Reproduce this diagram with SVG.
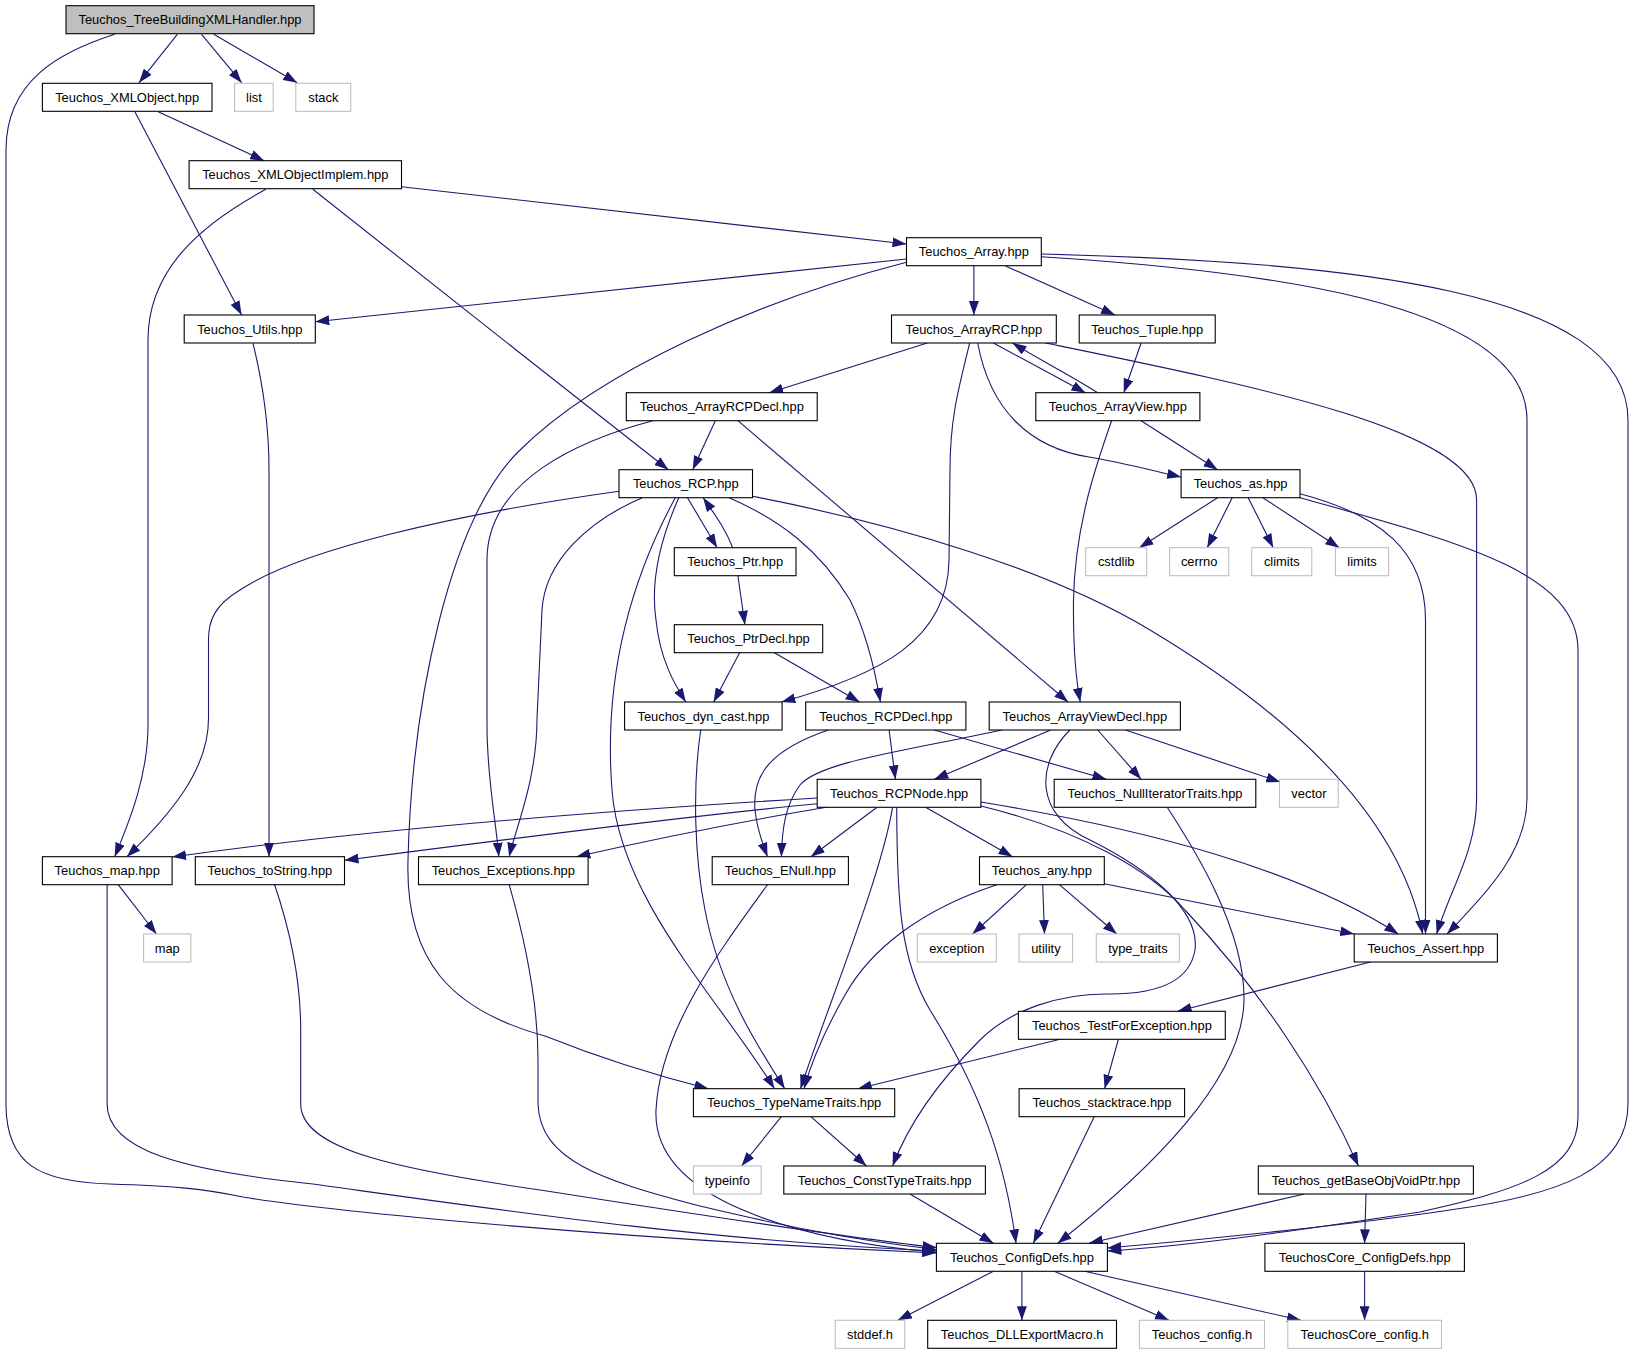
<svg xmlns="http://www.w3.org/2000/svg" width="1634" height="1355" viewBox="0 0 1634 1355">
<defs>
<style>
.n rect{fill:#ffffff;stroke:#000000;stroke-width:1.1}
.x rect{fill:#ffffff;stroke:#bfbfbf;stroke-width:1.1}
.r rect{fill:#bfbfbf;stroke:#000000;stroke-width:1.1}
text{font-family:"Liberation Sans",Arial,sans-serif;font-size:12.9px;fill:#000000;text-anchor:middle}
#edges path{fill:none;stroke:#191970;stroke-width:1.1;marker-end:url(#a)}
</style>
<marker id="a" markerUnits="userSpaceOnUse" markerWidth="14" markerHeight="10" viewBox="0 0 13.3 9.4" refX="13.3" refY="4.7" orient="auto"><path d="M0,0L13.3,4.7L0,9.4z" fill="#191970"/></marker>
</defs>
<rect width="1634" height="1355" fill="#ffffff"/>
<g id="edges">
<path d="M177.3,34.3L139,82.7"/>
<path d="M201.6,34.3L241.6,82.7"/>
<path d="M213.8,34.3L297.2,82.7"/>
<path d="M114.7,34.3C60,52 6,80 6,150L6,1104C6,1165 40,1182 110,1184C170,1186 200,1188 243,1197C320,1210 600,1238 936,1253"/>
<path d="M158.2,111.7L264.2,160.7"/>
<path d="M134.9,111.7L241.6,315"/>
<path d="M401.5,186.7L906.5,244"/>
<path d="M312.8,189.3C400,258 560,385 668.4,469.7"/>
<path d="M265.9,189.3C200,225 148,270 148,340L148,725C148,775 130,820 114.7,856.7"/>
<path d="M906.5,259L315.3,321.7"/>
<path d="M973.9,266L973.9,315"/>
<path d="M1005.5,266L1115.1,315"/>
<path d="M906.5,262.3C760,300 600,370 518,452C450,520 412,700 408,860C405,960 450,1010 545,1036C600,1058 650,1074 708.4,1088.7"/>
<path d="M1041.3,256.7C1250,270 1527,300 1527,420L1527,798C1527,850 1490,890 1447,934"/>
<path d="M1041.3,254C1350,262 1628,290 1628,420L1628,1104C1628,1170 1560,1195 1450,1210C1350,1225 1200,1240 1107.4,1248"/>
<path d="M253,343.3C262,380 269,420 269,470L269,856.7"/>
<path d="M927.3,343L769.2,392.7"/>
<path d="M993.4,343L1085.5,392.7"/>
<path d="M1097.7,392.7C1070,375 1040,360 1012.5,343"/>
<path d="M969.7,343C958,390 950,420 950,470L949,560C948,640 880,675 781.4,702"/>
<path d="M977.7,343C990,410 1030,448 1089,457C1120,462 1150,470 1181.1,477"/>
<path d="M1045.5,343C1250,385 1476.6,430 1476.6,500L1476.6,798.7C1476.6,850 1450,890 1436.6,934"/>
<path d="M1141.1,343L1123.8,392.7"/>
<path d="M1141.1,420.7L1217.6,469.7"/>
<path d="M1111.6,420.7C1100,455 1075,520 1073.5,600C1073,650 1076,680 1080.3,702"/>
<path d="M715.3,420.7L692.7,469.7"/>
<path d="M737.9,420.7L1068.1,702"/>
<path d="M652.8,420.7C580,440 487,480 487,560L487,725C487,780 496,820 498.8,856.7"/>
<path d="M687.5,497.7L717.1,547.7"/>
<path d="M732.7,547.7C725,528 715,515 703.2,497.7"/>
<path d="M678.8,497.7C660,540 650,580 656,620C660,660 675,685 685.8,702"/>
<path d="M729.2,497.7C780,520 820,550 850,600C865,630 875,670 880.4,702"/>
<path d="M619,491.3C450,515 300,550 240,590C215,605 208.5,620 208.5,640L208.5,718.7C208.5,770 170,815 126.9,856.7"/>
<path d="M642.3,497.7C590,520 545,560 542,610L537,718.7C537,780 515,830 509.2,856.7"/>
<path d="M675.3,497.7C620,600 605,700 612,790C620,900 720,1000 774.4,1088.7"/>
<path d="M752.5,496.3C900,525 1050,570 1150,630C1300,720 1400,820 1422.7,934"/>
<path d="M737.9,575.7L744.9,624.7"/>
<path d="M739.6,652.7L713.6,702"/>
<path d="M774.4,652.7L859.6,702"/>
<path d="M1217.6,497.7L1139.4,547.7"/>
<path d="M1232.2,497.7L1207.2,547.7"/>
<path d="M1248.2,497.7L1273.2,547.7"/>
<path d="M1262.8,497.7L1339.3,547.7"/>
<path d="M1300,493.7C1380,515 1425.5,550 1425.5,620L1425.5,934"/>
<path d="M1300,497.7C1450,540 1578,570 1578,650L1578,1117C1578,1170 1520,1190 1420,1212C1300,1230 1200,1245 1107.4,1251"/>
<path d="M700.7,730C692,790 695,860 705,910C720,990 760,1050 784.8,1088.7"/>
<path d="M889.1,730L895.4,779.3"/>
<path d="M828.3,730C770,750 752,775 755,810C757,830 763,845 767.5,856.7"/>
<path d="M934.3,730L1106.4,779.3"/>
<path d="M1050.7,730L934.3,779.3"/>
<path d="M1097.7,730L1141.1,779.3"/>
<path d="M1125.5,730L1280.2,782"/>
<path d="M1002.1,730C900,752 820,762 800,785C785,805 782,830 781.4,856.7"/>
<path d="M1069.8,730C1035,765 1035,815 1090,840C1150,870 1200,910 1195,950C1190,980 1160,994 1110,994C1060,993 1010,1010 980,1040C940,1080 910,1120 892.6,1166"/>
<path d="M1167.2,807.3C1195,850 1245,930 1244,1000C1243,1080 1150,1170 1057.7,1243.3"/>
<path d="M817.2,798C650,808 400,825 172.1,857"/>
<path d="M817.2,803.7C700,815 500,840 344.5,860.3"/>
<path d="M826.5,807.3C750,820 650,840 576.3,856.7"/>
<path d="M877,807.3L810.9,856.7"/>
<path d="M925.6,807.3L1012.5,856.7"/>
<path d="M892.6,807.3C880,880 830,1000 800.5,1088.7"/>
<path d="M896.7,807.3C897,900 900,960 930,1010C980,1090 1005,1160 1016,1243.3"/>
<path d="M980.9,802C1150,830 1300,870 1398.3,934"/>
<path d="M980.9,806C1080,830 1150,870 1185,910C1260,990 1320,1080 1358.4,1166"/>
<path d="M118.2,884.7L156.4,934"/>
<path d="M107.1,884.7L107.1,1104C107.1,1150 180,1170 312.8,1184C500,1210 700,1240 936.4,1251"/>
<path d="M274.6,884.7C290,930 300.7,980 300.7,1030L300.7,1104C300.7,1150 400,1170 545,1190.7C700,1215 850,1238 936.4,1247.5"/>
<path d="M509.2,884.7C525,940 538,1000 538,1060L538,1104C540,1160 600,1180 700,1206C780,1225 850,1240 936.4,1249.5"/>
<path d="M767.5,884.7C720,950 660,1030 656,1110C652,1200 800,1240 936.4,1252.5"/>
<path d="M1026.4,884.7L972.5,934"/>
<path d="M1042.7,884.7L1044.5,934"/>
<path d="M1059.4,884.7L1116.8,934"/>
<path d="M1104.3,883.7L1354.2,934"/>
<path d="M996.9,884.7C920,910 870,950 845,995C825,1030 812,1060 804,1088.7"/>
<path d="M1370.5,962L1177.6,1011.3"/>
<path d="M1061.2,1039L857.8,1088.7"/>
<path d="M1118.5,1039L1104.6,1088.7"/>
<path d="M1094.2,1116.7L1033.3,1243.3"/>
<path d="M781.4,1116.7L741.6,1166"/>
<path d="M810.9,1116.7L866.5,1166"/>
<path d="M910,1194L993.4,1243.3"/>
<path d="M1304.5,1194L1089,1243.3"/>
<path d="M1366,1194L1364.6,1243.3"/>
<path d="M1364.6,1271.3L1364.6,1320.3"/>
<path d="M993.4,1271.3L897.8,1320.3"/>
<path d="M1021.9,1271.3L1021.9,1320.3"/>
<path d="M1054.2,1271.3L1169,1320.3"/>
<path d="M1084.6,1271.3L1301,1320.3"/>
</g>
<g id="n_root" class="r"><rect x="66" y="5.7" width="248" height="28"/><text x="190" y="24.4">Teuchos_TreeBuildingXMLHandler.hpp</text></g>
<g id="n_xmlobject" class="n"><rect x="42.4" y="83.3" width="169.6" height="28"/><text x="127.2" y="102">Teuchos_XMLObject.hpp</text></g>
<g id="n_list" class="x"><rect x="234.6" y="83.3" width="38.6" height="28"/><text x="253.9" y="102">list</text></g>
<g id="n_stack" class="x"><rect x="295.8" y="83.3" width="54.9" height="28"/><text x="323.3" y="102">stack</text></g>
<g id="n_xmlobjectimplem" class="n"><rect x="189.1" y="160.7" width="212.4" height="28"/><text x="295.3" y="179.4">Teuchos_XMLObjectImplem.hpp</text></g>
<g id="n_array" class="n"><rect x="906.5" y="237.7" width="134.8" height="28"/><text x="973.9" y="256.4">Teuchos_Array.hpp</text></g>
<g id="n_utils" class="n"><rect x="184.2" y="315" width="131.1" height="28"/><text x="249.8" y="333.7">Teuchos_Utils.hpp</text></g>
<g id="n_arrayrcp" class="n"><rect x="891.5" y="315" width="164.8" height="28"/><text x="973.9" y="333.7">Teuchos_ArrayRCP.hpp</text></g>
<g id="n_tuple" class="n"><rect x="1079.2" y="315" width="136" height="28"/><text x="1147.2" y="333.7">Teuchos_Tuple.hpp</text></g>
<g id="n_arrayrcpdecl" class="n"><rect x="626.3" y="392.7" width="190.9" height="28"/><text x="721.8" y="411.4">Teuchos_ArrayRCPDecl.hpp</text></g>
<g id="n_arrayview" class="n"><rect x="1035.8" y="392.7" width="164.1" height="28"/><text x="1117.9" y="411.4">Teuchos_ArrayView.hpp</text></g>
<g id="n_rcp" class="n"><rect x="619" y="469.7" width="133.5" height="28"/><text x="685.8" y="488.4">Teuchos_RCP.hpp</text></g>
<g id="n_as" class="n"><rect x="1181.1" y="469.7" width="118.9" height="28"/><text x="1240.6" y="488.4">Teuchos_as.hpp</text></g>
<g id="n_ptr" class="n"><rect x="674.3" y="547.7" width="121.7" height="28"/><text x="735.2" y="566.4">Teuchos_Ptr.hpp</text></g>
<g id="n_cstdlib" class="x"><rect x="1085.7" y="547.7" width="61" height="28"/><text x="1116.2" y="566.4">cstdlib</text></g>
<g id="n_cerrno" class="x"><rect x="1169.6" y="547.7" width="59.1" height="28"/><text x="1199.2" y="566.4">cerrno</text></g>
<g id="n_climits" class="x"><rect x="1251.7" y="547.7" width="60.1" height="28"/><text x="1281.8" y="566.4">climits</text></g>
<g id="n_limits" class="x"><rect x="1335.4" y="547.7" width="53.2" height="28"/><text x="1362" y="566.4">limits</text></g>
<g id="n_ptrdecl" class="n"><rect x="674.3" y="624.7" width="148.4" height="28"/><text x="748.5" y="643.4">Teuchos_PtrDecl.hpp</text></g>
<g id="n_dyncast" class="n"><rect x="624.6" y="702" width="157.5" height="28"/><text x="703.4" y="720.7">Teuchos_dyn_cast.hpp</text></g>
<g id="n_rcpdecl" class="n"><rect x="805.7" y="702" width="160.2" height="28"/><text x="885.8" y="720.7">Teuchos_RCPDecl.hpp</text></g>
<g id="n_arrayviewdecl" class="n"><rect x="989.2" y="702" width="191.2" height="28"/><text x="1084.8" y="720.7">Teuchos_ArrayViewDecl.hpp</text></g>
<g id="n_rcpnode" class="n"><rect x="817.2" y="779.3" width="163.7" height="28"/><text x="899.1" y="798">Teuchos_RCPNode.hpp</text></g>
<g id="n_nulliter" class="n"><rect x="1054.2" y="779.3" width="201.6" height="28"/><text x="1155" y="798">Teuchos_NullIteratorTraits.hpp</text></g>
<g id="n_vector" class="x"><rect x="1279.5" y="779.3" width="58.7" height="28"/><text x="1308.9" y="798">vector</text></g>
<g id="n_maphpp" class="n"><rect x="42.4" y="856.7" width="129.7" height="28"/><text x="107.3" y="875.4">Teuchos_map.hpp</text></g>
<g id="n_tostring" class="n"><rect x="195.3" y="856.7" width="149.2" height="28"/><text x="269.9" y="875.4">Teuchos_toString.hpp</text></g>
<g id="n_exceptions" class="n"><rect x="418.5" y="856.7" width="169.6" height="28"/><text x="503.3" y="875.4">Teuchos_Exceptions.hpp</text></g>
<g id="n_enull" class="n"><rect x="712.2" y="856.7" width="136.2" height="28"/><text x="780.3" y="875.4">Teuchos_ENull.hpp</text></g>
<g id="n_any" class="n"><rect x="979.5" y="856.7" width="124.8" height="28"/><text x="1041.9" y="875.4">Teuchos_any.hpp</text></g>
<g id="n_map" class="x"><rect x="143.6" y="934" width="47.2" height="28"/><text x="167.2" y="952.7">map</text></g>
<g id="n_exception" class="x"><rect x="917.3" y="934" width="78.9" height="28"/><text x="956.8" y="952.7">exception</text></g>
<g id="n_utility" class="x"><rect x="1019.1" y="934" width="53.5" height="28"/><text x="1045.9" y="952.7">utility</text></g>
<g id="n_typetraits" class="x"><rect x="1096.3" y="934" width="83.1" height="28"/><text x="1137.9" y="952.7">type_traits</text></g>
<g id="n_assert" class="n"><rect x="1354.2" y="934" width="143.2" height="28"/><text x="1425.8" y="952.7">Teuchos_Assert.hpp</text></g>
<g id="n_testforexception" class="n"><rect x="1018.4" y="1011.3" width="206.9" height="28"/><text x="1121.9" y="1030">Teuchos_TestForException.hpp</text></g>
<g id="n_typenametraits" class="n"><rect x="693.4" y="1088.7" width="201.3" height="28"/><text x="794.1" y="1107.4">Teuchos_TypeNameTraits.hpp</text></g>
<g id="n_stacktrace" class="n"><rect x="1019.1" y="1088.7" width="165.5" height="28"/><text x="1101.9" y="1107.4">Teuchos_stacktrace.hpp</text></g>
<g id="n_typeinfo" class="x"><rect x="693.4" y="1166" width="67.8" height="28"/><text x="727.3" y="1184.7">typeinfo</text></g>
<g id="n_consttypetraits" class="n"><rect x="783.8" y="1166" width="201.6" height="28"/><text x="884.6" y="1184.7">Teuchos_ConstTypeTraits.hpp</text></g>
<g id="n_getbaseobjvoidptr" class="n"><rect x="1258.3" y="1166" width="215.1" height="28"/><text x="1365.9" y="1184.7">Teuchos_getBaseObjVoidPtr.hpp</text></g>
<g id="n_configdefs" class="n"><rect x="936.4" y="1243.3" width="171" height="28"/><text x="1021.9" y="1262">Teuchos_ConfigDefs.hpp</text></g>
<g id="n_coreconfigdefs" class="n"><rect x="1264.9" y="1243.3" width="199.5" height="28"/><text x="1364.7" y="1262">TeuchosCore_ConfigDefs.hpp</text></g>
<g id="n_stddef" class="x"><rect x="835.2" y="1320.3" width="69.5" height="28"/><text x="870" y="1339">stddef.h</text></g>
<g id="n_dllexport" class="n"><rect x="927.7" y="1320.3" width="188.8" height="28"/><text x="1022.1" y="1339">Teuchos_DLLExportMacro.h</text></g>
<g id="n_teuchosconfig" class="x"><rect x="1139.4" y="1320.3" width="125.1" height="28"/><text x="1202" y="1339">Teuchos_config.h</text></g>
<g id="n_corecfg" class="x"><rect x="1287.8" y="1320.3" width="153.7" height="28"/><text x="1364.7" y="1339">TeuchosCore_config.h</text></g>
</svg>
